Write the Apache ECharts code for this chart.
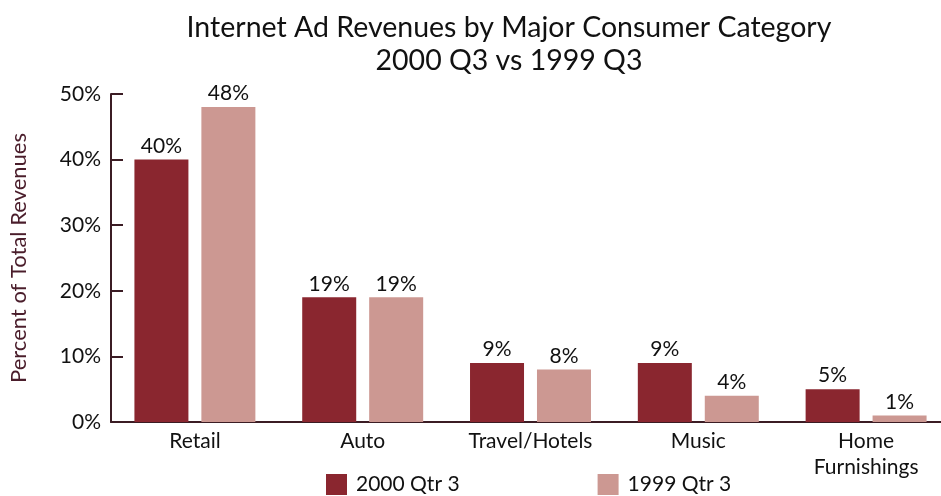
<!DOCTYPE html>
<html>
<head>
<meta charset="utf-8">
<script src="https://cdn.jsdelivr.net/npm/echarts@6/dist/echarts.min.js"></script>
<style>
  html, body { margin: 0; padding: 0; background: #fff; }
  #chart { width: 941px; height: 496px; }
</style>
</head>
<body>
<div id="chart"></div>
<script>
var categories = ['Retail', 'Auto', 'Travel/Hotels', 'Music', 'Home\nFurnishings']
var q3_2000 = [40, 19, 9, 9, 5] // 2000 Qtr 3
var q3_1999 = [48, 19, 8, 4, 1] // 1999 Qtr 3
var yTicks = [0, 10, 20, 30, 40, 50]

var axisColor = '#3b1c24'
var fontFam = 'Lato'

var chart = echarts.init(document.getElementById('chart'))
var option = {
  textStyle: { fontFamily: fontFam },
  title: {
    text: 'Internet Ad Revenues by Major Consumer Category\n2000 Q3 vs 1999 Q3',
    left: 504,
    textAlign: 'center',
    top: 6,
    textStyle: { fontFamily: fontFam, fontWeight: 'normal', fontSize: 28.5, lineHeight: 33, color: '#111' }
  },
  legend: {
    top: 469,
    left: 321,
    itemWidth: 21,
    itemHeight: 21,
    itemGap: 138,
    icon: 'rect',
    textStyle: { fontFamily: fontFam, fontSize: 21, color: '#111', padding: [0, 0, 0, 4] },
    data: ['2000 Qtr 3', '1999 Qtr 3']
  },
  grid: { left: 111, right: -9, top: 94, bottom: 74, containLabel: false, outerBoundsMode: 'none' },
  xAxis: {
    type: 'category',
    data: categories,
    axisLine: { lineStyle: { color: axisColor, width: 2 } },
    axisTick: { inside: true, length: 10, lineStyle: { color: axisColor, width: 2 } },
    axisLabel: { fontSize: 21, color: '#111', margin: 6, lineHeight: 26, interval: 0 }
  },
  yAxis: {
    type: 'value',
    min: yTicks[0],
    max: yTicks[yTicks.length - 1],
    interval: 10,
    name: 'Percent of Total Revenues',
    nameLocation: 'middle',
    nameGap: 81,
    nameTextStyle: { fontSize: 22, color: '#4a1d2b', fontFamily: fontFam },
    splitLine: { show: false },
    axisLine: { show: true, lineStyle: { color: axisColor, width: 2 } },
    axisTick: { show: true, inside: true, length: 12, lineStyle: { color: axisColor, width: 2 } },
    axisLabel: { fontSize: 21, color: '#111', margin: 10, formatter: '{value}%' }
  },
  series: [
    {
      name: '2000 Qtr 3',
      type: 'bar',
      data: q3_2000,
      barWidth: 54,
      barGap: '24%',
      itemStyle: { color: '#8a262f' },
      label: { show: true, position: 'top', distance: 3, fontSize: 21, color: '#111', formatter: '{c}%' }
    },
    {
      name: '1999 Qtr 3',
      type: 'bar',
      data: q3_1999,
      barWidth: 54,
      itemStyle: { color: '#cc9892' },
      label: { show: true, position: 'top', distance: 3, fontSize: 21, color: '#111', formatter: '{c}%' }
    }
  ]
}
chart.setOption(option)
</script>
</body>
</html>
